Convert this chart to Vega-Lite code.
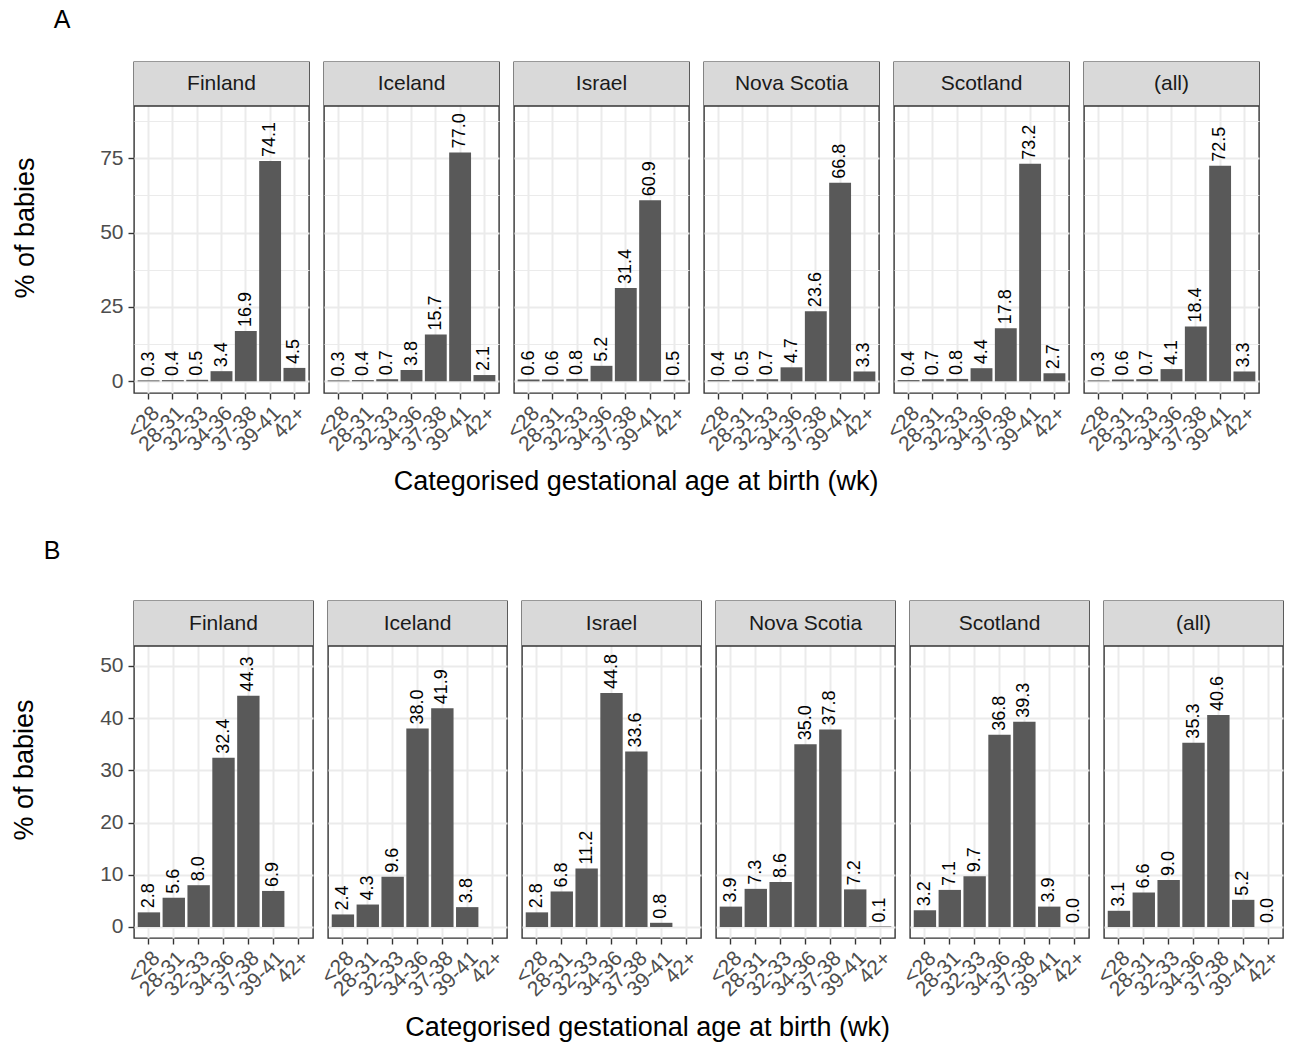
{
  "$schema": "https://vega.github.io/schema/vega-lite/v6.json",
  "background": "white",
  "padding": {"left": 10, "top": 8, "right": 4, "bottom": 2},
  "config": {
    "font": "Liberation Sans",
    "view": {"stroke": null},
    "title": {"fontWeight": "normal", "color": "black", "font": "Liberation Sans"}
  },
  "datasets": {
    "a": [
      {"country": "Finland", "age": "<28", "pct": 0.3},
      {"country": "Finland", "age": "28-31", "pct": 0.4},
      {"country": "Finland", "age": "32-33", "pct": 0.5},
      {"country": "Finland", "age": "34-36", "pct": 3.4},
      {"country": "Finland", "age": "37-38", "pct": 16.9},
      {"country": "Finland", "age": "39-41", "pct": 74.1},
      {"country": "Finland", "age": "42+", "pct": 4.5},
      {"country": "Iceland", "age": "<28", "pct": 0.3},
      {"country": "Iceland", "age": "28-31", "pct": 0.4},
      {"country": "Iceland", "age": "32-33", "pct": 0.7},
      {"country": "Iceland", "age": "34-36", "pct": 3.8},
      {"country": "Iceland", "age": "37-38", "pct": 15.7},
      {"country": "Iceland", "age": "39-41", "pct": 77.0},
      {"country": "Iceland", "age": "42+", "pct": 2.1},
      {"country": "Israel", "age": "<28", "pct": 0.6},
      {"country": "Israel", "age": "28-31", "pct": 0.6},
      {"country": "Israel", "age": "32-33", "pct": 0.8},
      {"country": "Israel", "age": "34-36", "pct": 5.2},
      {"country": "Israel", "age": "37-38", "pct": 31.4},
      {"country": "Israel", "age": "39-41", "pct": 60.9},
      {"country": "Israel", "age": "42+", "pct": 0.5},
      {"country": "Nova Scotia", "age": "<28", "pct": 0.4},
      {"country": "Nova Scotia", "age": "28-31", "pct": 0.5},
      {"country": "Nova Scotia", "age": "32-33", "pct": 0.7},
      {"country": "Nova Scotia", "age": "34-36", "pct": 4.7},
      {"country": "Nova Scotia", "age": "37-38", "pct": 23.6},
      {"country": "Nova Scotia", "age": "39-41", "pct": 66.8},
      {"country": "Nova Scotia", "age": "42+", "pct": 3.3},
      {"country": "Scotland", "age": "<28", "pct": 0.4},
      {"country": "Scotland", "age": "28-31", "pct": 0.7},
      {"country": "Scotland", "age": "32-33", "pct": 0.8},
      {"country": "Scotland", "age": "34-36", "pct": 4.4},
      {"country": "Scotland", "age": "37-38", "pct": 17.8},
      {"country": "Scotland", "age": "39-41", "pct": 73.2},
      {"country": "Scotland", "age": "42+", "pct": 2.7},
      {"country": "(all)", "age": "<28", "pct": 0.3},
      {"country": "(all)", "age": "28-31", "pct": 0.6},
      {"country": "(all)", "age": "32-33", "pct": 0.7},
      {"country": "(all)", "age": "34-36", "pct": 4.1},
      {"country": "(all)", "age": "37-38", "pct": 18.4},
      {"country": "(all)", "age": "39-41", "pct": 72.5},
      {"country": "(all)", "age": "42+", "pct": 3.3}
    ],
    "b": [
      {"country": "Finland", "age": "<28", "pct": 2.8},
      {"country": "Finland", "age": "28-31", "pct": 5.6},
      {"country": "Finland", "age": "32-33", "pct": 8.0},
      {"country": "Finland", "age": "34-36", "pct": 32.4},
      {"country": "Finland", "age": "37-38", "pct": 44.3},
      {"country": "Finland", "age": "39-41", "pct": 6.9},
      {"country": "Iceland", "age": "<28", "pct": 2.4},
      {"country": "Iceland", "age": "28-31", "pct": 4.3},
      {"country": "Iceland", "age": "32-33", "pct": 9.6},
      {"country": "Iceland", "age": "34-36", "pct": 38.0},
      {"country": "Iceland", "age": "37-38", "pct": 41.9},
      {"country": "Iceland", "age": "39-41", "pct": 3.8},
      {"country": "Israel", "age": "<28", "pct": 2.8},
      {"country": "Israel", "age": "28-31", "pct": 6.8},
      {"country": "Israel", "age": "32-33", "pct": 11.2},
      {"country": "Israel", "age": "34-36", "pct": 44.8},
      {"country": "Israel", "age": "37-38", "pct": 33.6},
      {"country": "Israel", "age": "39-41", "pct": 0.8},
      {"country": "Nova Scotia", "age": "<28", "pct": 3.9},
      {"country": "Nova Scotia", "age": "28-31", "pct": 7.3},
      {"country": "Nova Scotia", "age": "32-33", "pct": 8.6},
      {"country": "Nova Scotia", "age": "34-36", "pct": 35.0},
      {"country": "Nova Scotia", "age": "37-38", "pct": 37.8},
      {"country": "Nova Scotia", "age": "39-41", "pct": 7.2},
      {"country": "Nova Scotia", "age": "42+", "pct": 0.1},
      {"country": "Scotland", "age": "<28", "pct": 3.2},
      {"country": "Scotland", "age": "28-31", "pct": 7.1},
      {"country": "Scotland", "age": "32-33", "pct": 9.7},
      {"country": "Scotland", "age": "34-36", "pct": 36.8},
      {"country": "Scotland", "age": "37-38", "pct": 39.3},
      {"country": "Scotland", "age": "39-41", "pct": 3.9},
      {"country": "Scotland", "age": "42+", "pct": 0.0},
      {"country": "(all)", "age": "<28", "pct": 3.1},
      {"country": "(all)", "age": "28-31", "pct": 6.6},
      {"country": "(all)", "age": "32-33", "pct": 9.0},
      {"country": "(all)", "age": "34-36", "pct": 35.3},
      {"country": "(all)", "age": "37-38", "pct": 40.6},
      {"country": "(all)", "age": "39-41", "pct": 5.2},
      {"country": "(all)", "age": "42+", "pct": 0.0}
    ]
  },
  "spacing": 44,
  "vconcat": [
    {
      "title": {"text": "A", "anchor": "start", "frame": "bounds", "fontSize": 25, "offset": 28, "dx": 42},
      "vconcat": [
        {
          "data": {"name": "a"},
          "facet": {"column": {"field": "country", "type": "nominal", "sort": ["Finland", "Iceland", "Israel", "Nova Scotia", "Scotland", "(all)"], "header": null}},
          "spacing": {"column": 15},
          "bounds": "flush",
          "title": {"text": "Categorised gestational age at birth (wk)", "orient": "bottom", "anchor": "middle", "fontSize": 27, "offset": 14},
          "spec": {
            "width": 175,
            "height": 331,
            "view": {"fill": "white", "stroke": "#333333", "strokeWidth": 1.4},
            "layer": [
              {
                "transform": [{"filter": "datum.age === '<28'"}],
                "mark": {"type": "rect", "fill": "#d9d9d9"},
                "encoding": {"y": {"datum": 92.6, "type": "quantitative"}, "y2": {"datum": 107.4}}
              },
              {
                "mark": {"type": "bar", "color": "#595959"},
                "encoding": {
                  "x": {
                    "field": "age", "type": "nominal",
                    "scale": {"domain": ["<28", "28-31", "32-33", "34-36", "37-38", "39-41", "42+"], "paddingInner": 0.1, "paddingOuter": 0.15},
                    "axis": {"title": null, "labelAngle": -45, "labelAlign": "right", "labelBaseline": "top", "labelFontSize": 21, "labelColor": "#4d4d4d", "labelPadding": 3, "labelOverlap": false, "labelBound": false, "tickSize": 6, "tickColor": "#333333", "tickWidth": 1.4, "domain": false, "grid": true, "gridColor": "#ebebeb", "gridWidth": 2, "bandPosition": 0.5}
                  },
                  "y": {
                    "field": "pct", "type": "quantitative",
                    "scale": {"domain": [-3.94, 107.4], "nice": false, "zero": false},
                    "axis": {"title": "% of babies", "titleFontSize": 27, "titleFontWeight": "normal", "titleColor": "black", "titlePadding": 60, "grid": true, "values": [0, 12.5, 25, 37.5, 50, 62.5, 75, 87.5], "labelExpr": "datum.value % 25 === 0 ? datum.label : ''", "labelFontSize": 21, "labelColor": "#4d4d4d", "labelPadding": 5, "tickSize": 6, "tickColor": "#333333", "tickWidth": 1.4, "tickOpacity": {"condition": {"test": "datum.value % 25 !== 0", "value": 0}, "value": 1}, "gridColor": "#ebebeb", "gridWidth": {"condition": {"test": "datum.value % 25 !== 0", "value": 1}, "value": 2}, "domain": false}
                  },
                  "y2": {"datum": 0}
                }
              },
              {
                "mark": {"type": "text", "angle": 270, "align": "left", "baseline": "middle", "dx": 4, "fontSize": 18, "color": "black"},
                "encoding": {
                  "x": {"field": "age", "type": "nominal"},
                  "y": {"field": "pct", "type": "quantitative"},
                  "text": {"field": "pct", "type": "quantitative", "format": ".1f"}
                }
              },
              {
                "transform": [{"filter": "datum.age === '<28'"}],
                "mark": {"type": "rule", "color": "#333333", "strokeWidth": 1.4},
                "encoding": {"y": {"datum": 92.6, "type": "quantitative"}}
              },
              {
                "transform": [{"filter": "datum.age === '<28'"}],
                "mark": {"type": "text", "fontSize": 21, "color": "#1a1a1a", "baseline": "middle"},
                "encoding": {"y": {"datum": 100, "type": "quantitative"}, "text": {"field": "country", "type": "nominal"}}
              }
            ]
          }
        }
      ]
    },
    {
      "title": {"text": "B", "anchor": "start", "frame": "bounds", "fontSize": 25, "offset": 36, "dx": 33},
      "vconcat": [
        {
          "data": {"name": "b"},
          "facet": {"column": {"field": "country", "type": "nominal", "sort": ["Finland", "Iceland", "Israel", "Nova Scotia", "Scotland", "(all)"], "header": null}},
          "spacing": {"column": 15},
          "bounds": "flush",
          "title": {"text": "Categorised gestational age at birth (wk)", "orient": "bottom", "anchor": "middle", "fontSize": 27, "offset": 15},
          "spec": {
            "width": 179,
            "height": 337,
            "view": {"fill": "white", "stroke": "#333333", "strokeWidth": 1.4},
            "layer": [
              {
                "transform": [{"filter": "datum.age === '<28'"}],
                "mark": {"type": "rect", "fill": "#d9d9d9"},
                "encoding": {"y": {"datum": 53.8, "type": "quantitative"}, "y2": {"datum": 62.42}}
              },
              {
                "mark": {"type": "bar", "color": "#595959"},
                "encoding": {
                  "x": {
                    "field": "age", "type": "nominal",
                    "scale": {"domain": ["<28", "28-31", "32-33", "34-36", "37-38", "39-41", "42+"], "paddingInner": 0.1, "paddingOuter": 0.15},
                    "axis": {"title": null, "labelAngle": -45, "labelAlign": "right", "labelBaseline": "top", "labelFontSize": 21, "labelColor": "#4d4d4d", "labelPadding": 3, "labelOverlap": false, "labelBound": false, "tickSize": 6, "tickColor": "#333333", "tickWidth": 1.4, "domain": false, "grid": true, "gridColor": "#ebebeb", "gridWidth": 2, "bandPosition": 0.5}
                  },
                  "y": {
                    "field": "pct", "type": "quantitative",
                    "scale": {"domain": [-2.11, 62.42], "nice": false, "zero": false},
                    "axis": {"title": "% of babies", "titleFontSize": 27, "titleFontWeight": "normal", "titleColor": "black", "titlePadding": 61, "grid": true, "values": [0, 5, 10, 15, 20, 25, 30, 35, 40, 45, 50], "labelExpr": "datum.value % 10 === 0 ? datum.label : ''", "labelFontSize": 21, "labelColor": "#4d4d4d", "labelPadding": 5, "tickSize": 6, "tickColor": "#333333", "tickWidth": 1.4, "tickOpacity": {"condition": {"test": "datum.value % 10 !== 0", "value": 0}, "value": 1}, "gridColor": "#ebebeb", "gridWidth": {"condition": {"test": "datum.value % 10 !== 0", "value": 1}, "value": 2}, "domain": false}
                  },
                  "y2": {"datum": 0}
                }
              },
              {
                "mark": {"type": "text", "angle": 270, "align": "left", "baseline": "middle", "dx": 4, "fontSize": 18, "color": "black"},
                "encoding": {
                  "x": {"field": "age", "type": "nominal"},
                  "y": {"field": "pct", "type": "quantitative"},
                  "text": {"field": "pct", "type": "quantitative", "format": ".1f"}
                }
              },
              {
                "transform": [{"filter": "datum.age === '<28'"}],
                "mark": {"type": "rule", "color": "#333333", "strokeWidth": 1.4},
                "encoding": {"y": {"datum": 53.8, "type": "quantitative"}}
              },
              {
                "transform": [{"filter": "datum.age === '<28'"}],
                "mark": {"type": "text", "fontSize": 21, "color": "#1a1a1a", "baseline": "middle"},
                "encoding": {"y": {"datum": 58.11, "type": "quantitative"}, "text": {"field": "country", "type": "nominal"}}
              }
            ]
          }
        }
      ]
    }
  ]
}
